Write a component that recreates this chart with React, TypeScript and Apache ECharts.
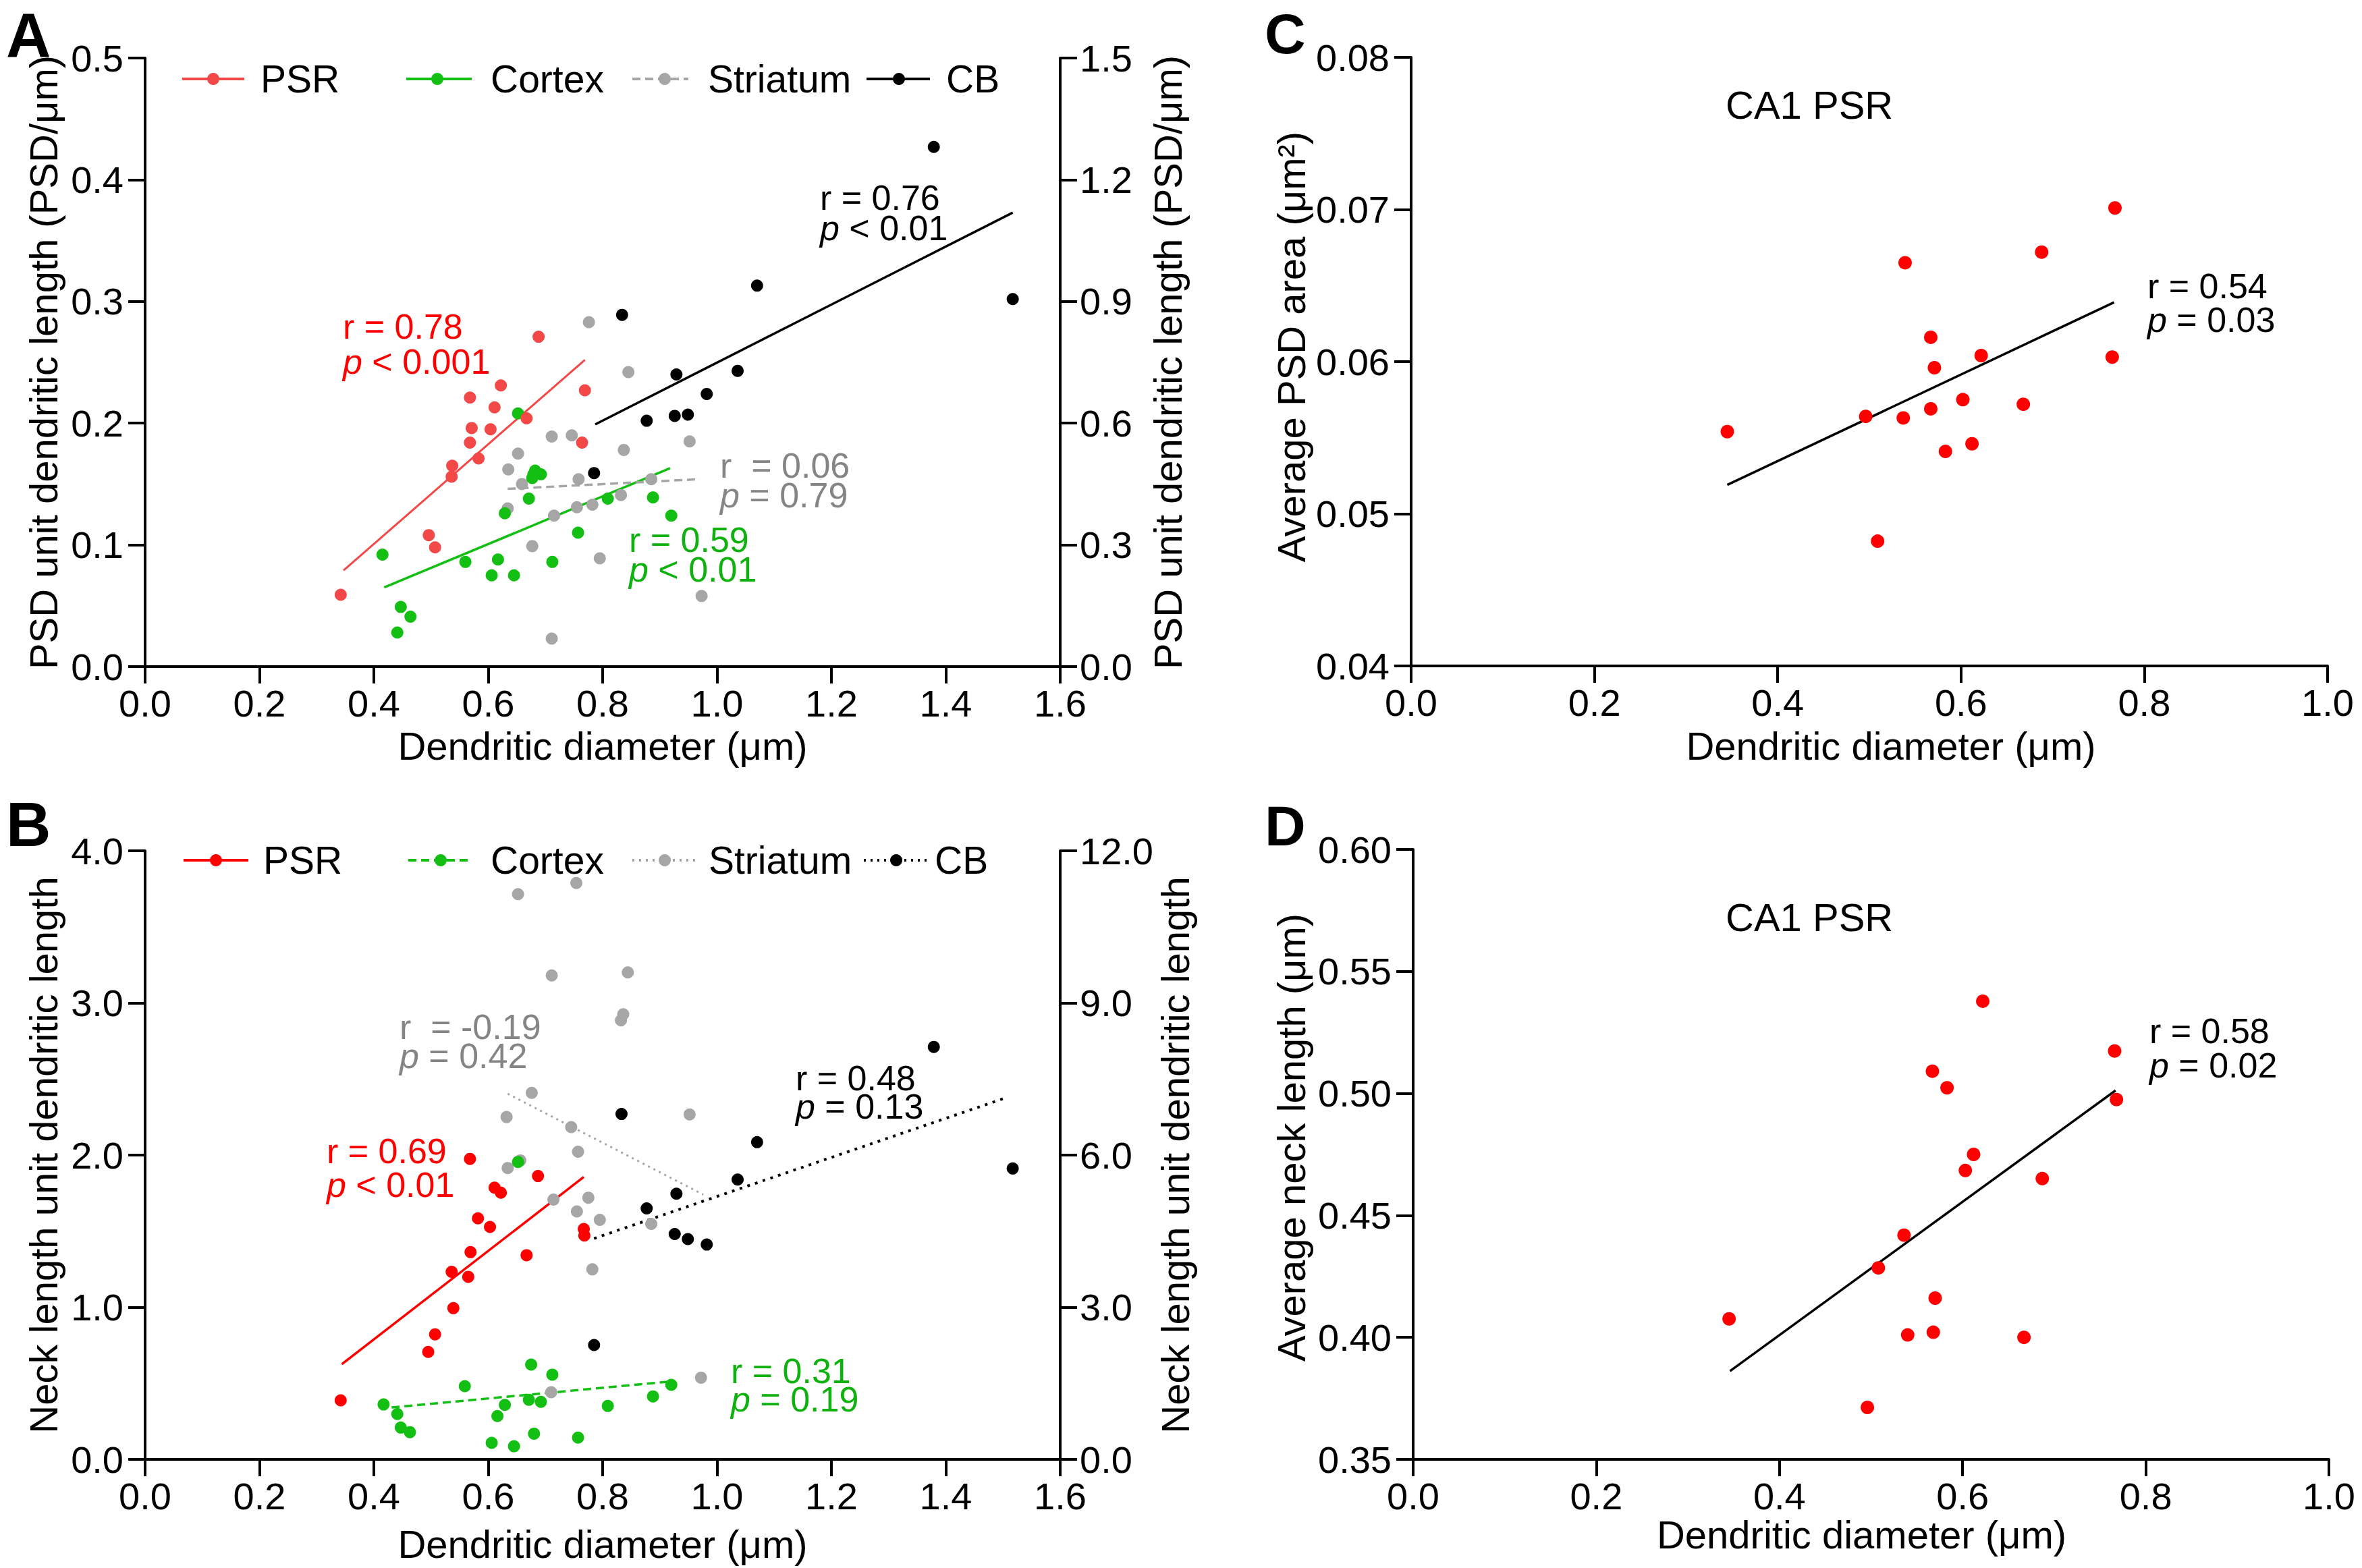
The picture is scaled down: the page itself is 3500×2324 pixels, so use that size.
import React, { useEffect, useRef } from 'react';
import * as echarts from 'echarts';

const FONT = '"Liberation Sans", Arial, Helvetica, sans-serif';

// ---------- Panel A: PSD unit dendritic length ----------
const psrA: number[][] = [
  [0.342, 0.059], [0.496, 0.108], [0.507, 0.098], [0.537, 0.165], [0.536, 0.156],
  [0.568, 0.221], [0.571, 0.196], [0.568, 0.184], [0.583, 0.171], [0.604, 0.195],
  [0.611, 0.213], [0.622, 0.231], [0.667, 0.204], [0.688, 0.271], [0.769, 0.227],
  [0.764, 0.184],
];
const cortexA: number[][] = [
  [0.415, 0.092], [0.447, 0.049], [0.464, 0.041], [0.441, 0.028], [0.560, 0.086],
  [0.606, 0.075], [0.617, 0.088], [0.645, 0.075], [0.629, 0.126], [0.652, 0.208],
  [0.671, 0.138], [0.679, 0.158], [0.682, 0.161], [0.692, 0.158], [0.677, 0.155],
  [0.712, 0.086], [0.757, 0.110], [0.809, 0.138], [0.888, 0.139], [0.920, 0.124],
];
const striatumA: number[][] = [
  [0.776, 0.283], [0.845, 0.242], [0.711, 0.189], [0.746, 0.190], [0.652, 0.175],
  [0.635, 0.162], [0.659, 0.150], [0.758, 0.154], [0.837, 0.178], [0.952, 0.185],
  [0.885, 0.154], [0.832, 0.141], [0.782, 0.133], [0.755, 0.131], [0.634, 0.130],
  [0.715, 0.124], [0.677, 0.099], [0.795, 0.089], [0.973, 0.058], [0.711, 0.023],
];
const cbA: number[][] = [
  [0.785, 0.159], [0.834, 0.289], [0.877, 0.202], [0.929, 0.240], [0.926, 0.206],
  [0.949, 0.207], [0.982, 0.224], [1.036, 0.243], [1.070, 0.313], [1.379, 0.427],
  [1.517, 0.302],
];
const psrAFit: number[][] = [[0.347, 0.079], [0.769, 0.252]];
const cortexAFit: number[][] = [[0.418, 0.065], [0.918, 0.163]];
const striatumAFit: number[][] = [[0.634, 0.146], [0.970, 0.154]];
const cbAFit: number[][] = [[0.787, 0.199], [1.517, 0.373]];

// ---------- Panel B: Neck length unit dendritic length ----------
const psrB: number[][] = [
  [0.342, 0.388], [0.495, 0.706], [0.507, 0.822], [0.539, 0.994], [0.536, 1.233],
  [0.565, 1.200], [0.569, 1.362], [0.568, 1.975], [0.582, 1.584], [0.603, 1.528],
  [0.611, 1.786], [0.622, 1.753], [0.667, 1.342], [0.687, 1.862], [0.767, 1.514],
  [0.768, 1.471],
];
const cortexB: number[][] = [
  [0.417, 0.361], [0.441, 0.298], [0.447, 0.209], [0.463, 0.179], [0.559, 0.481],
  [0.606, 0.109], [0.616, 0.285], [0.629, 0.358], [0.645, 0.086], [0.652, 1.955],
  [0.671, 0.391], [0.675, 0.623], [0.680, 0.169], [0.692, 0.378], [0.712, 0.557],
  [0.757, 0.143], [0.809, 0.351], [0.888, 0.414], [0.920, 0.490],
];
const striatumB: number[][] = [
  [0.754, 3.788], [0.652, 3.715], [0.711, 3.181], [0.844, 3.201], [0.836, 2.926],
  [0.832, 2.886], [0.676, 2.409], [0.632, 2.250], [0.952, 2.267], [0.745, 2.184],
  [0.757, 2.022], [0.634, 1.915], [0.656, 1.965], [0.714, 1.707], [0.775, 1.720],
  [0.755, 1.630], [0.795, 1.574], [0.885, 1.548], [0.782, 1.249], [0.710, 0.441],
  [0.972, 0.537],
];
const cbB: number[][] = [
  [0.785, 0.752], [0.833, 2.270], [0.877, 1.650], [0.929, 1.746], [0.926, 1.481],
  [0.949, 1.448], [0.982, 1.412], [1.036, 1.839], [1.070, 2.085], [1.379, 2.711],
  [1.517, 1.912],
];
const psrBFit: number[][] = [[0.344, 0.626], [0.767, 1.856]];
const cortexBFit: number[][] = [[0.431, 0.341], [0.924, 0.514]];
const striatumBFit: number[][] = [[0.634, 2.403], [0.976, 1.740]];
const cbBFit: number[][] = [[0.785, 1.452], [1.500, 2.370]];

// ---------- Panel C: Average PSD area ----------
const psrC: number[][] = [
  [0.345, 0.0554], [0.496, 0.0564], [0.509, 0.0482], [0.537, 0.0563], [0.539, 0.0665],
  [0.567, 0.0616], [0.571, 0.0596], [0.567, 0.0569], [0.583, 0.0541], [0.602, 0.0575],
  [0.612, 0.0546], [0.622, 0.0604], [0.668, 0.0572], [0.688, 0.0672], [0.768, 0.0701],
  [0.765, 0.0603],
];
const psrCFit: number[][] = [[0.345, 0.0519], [0.767, 0.0639]];

// ---------- Panel D: Average neck length ----------
const psrD: number[][] = [
  [0.345, 0.4076], [0.496, 0.3713], [0.508, 0.4285], [0.536, 0.4419], [0.540, 0.4010],
  [0.567, 0.5091], [0.568, 0.4021], [0.570, 0.4161], [0.583, 0.5023], [0.603, 0.4684],
  [0.612, 0.4750], [0.622, 0.5378], [0.667, 0.4000], [0.687, 0.4651], [0.766, 0.5174],
  [0.768, 0.4975],
];
const psrDFit: number[][] = [[0.346, 0.3862], [0.767, 0.5012]];

// ---------- Tick settings ----------
const xTicksAB = { min: 0, max: 1.6, interval: 0.2 };
const xTicksCD = { min: 0, max: 1.0, interval: 0.2 };
const yTicksA = { min: 0, max: 0.5, interval: 0.1 };
const yTicksARight = { min: 0, max: 1.5, interval: 0.3 };
const yTicksB = { min: 0, max: 4, interval: 1 };
const yTicksBRight = { min: 0, max: 12, interval: 3 };
const yTicksC = { min: 0.04, max: 0.08, interval: 0.01 };
const yTicksD = { min: 0.35, max: 0.6, interval: 0.05 };

const RED_A = '#f24848';
const RED = '#ff0000';
const GREEN = '#13bf13';
const GREEN_TXT = '#0fb10f';
const GRAY = '#a6a6a6';
const GRAY_TXT = '#858585';
const BLACK = '#000000';

const LABEL_SIZE = 56;
const TITLE_SIZE = 58;

function axisCommon(decimals: number) {
  return {
    axisLine: { show: true, onZero: false, lineStyle: { color: '#000', width: 4 } },
    axisTick: { show: true, inside: false, length: 25, lineStyle: { color: '#000', width: 4 } },
    splitLine: { show: false },
    axisLabel: {
      color: '#000',
      fontSize: LABEL_SIZE,
      fontFamily: FONT,
      showMinLabel: true,
      showMaxLabel: true,
      formatter: (v: number) => v.toFixed(decimals),
    },
    nameTextStyle: { color: '#000', fontSize: TITLE_SIZE, fontFamily: FONT },
    nameLocation: 'middle',
  };
}

function xAxis(grid: number, ticks: any, nameGap: number, padding: number[] = [0, 0, 0, 0]) {
  const c: any = axisCommon(1);
  return {
    type: 'value',
    gridIndex: grid,
    ...ticks,
    ...c,
    axisLabel: { ...c.axisLabel, margin: 26 },
    name: 'Dendritic diameter (\u03bcm)',
    nameGap,
    nameTextStyle: { ...c.nameTextStyle, padding },
  };
}

function yAxis(grid: number, ticks: any, decimals: number, name: string, nameGap: number, position = 'left', padding: number[] = [0, 0, 0, 0]) {
  const c: any = axisCommon(decimals);
  return {
    type: 'value',
    gridIndex: grid,
    position,
    ...ticks,
    ...c,
    axisLabel: { ...c.axisLabel, margin: position === 'left' ? 32 : 29 },
    name,
    nameGap,
    nameTextStyle: { ...c.nameTextStyle, padding },
  };
}

function scatter(name: string, data: number[][], color: string, x: number, y: number, size = 18) {
  return {
    type: 'scatter',
    name,
    data,
    xAxisIndex: x,
    yAxisIndex: y,
    symbol: 'circle',
    symbolSize: size,
    itemStyle: { color, opacity: 1 },
    silent: true,
    z: 3,
  };
}

function fit(name: string, data: number[][], color: string, x: number, y: number, type: any = 'solid', width = 3.5) {
  return {
    type: 'line',
    name,
    data,
    xAxisIndex: x,
    yAxisIndex: y,
    symbol: 'none',
    showSymbol: false,
    lineStyle: { color, width, type },
    silent: true,
    z: 2,
  };
}

function txt(x: number, y: number, text: string, color: string, size = 52, bold = false, lh = 40) {
  return {
    type: 'text',
    x,
    y,
    z: 50,
    silent: true,
    style: {
      text,
      fill: color,
      fontSize: size,
      fontFamily: FONT,
      fontWeight: bold ? 'bold' : 'normal',
      lineHeight: lh,
      align: 'left',
      verticalAlign: 'middle',
      rich: {
        i: { fontStyle: 'italic', fontSize: size, fontFamily: FONT, fill: color, lineHeight: lh },
      },
    },
  };
}

function legendItem(x1: number, x2: number, cx: number, tx: number, y: number, label: string, color: string, dash: any) {
  return [
    {
      type: 'line',
      silent: true,
      z: 50,
      shape: { x1, y1: y, x2, y2: y },
      style: { stroke: color, lineWidth: 4, lineDash: dash },
    },
    { type: 'circle', silent: true, z: 51, shape: { cx, cy: y, r: 9 }, style: { fill: color } },
    txt(tx, y, label, '#000', 57, false, 50),
  ];
}

export default function App() {
  const ref = useRef<HTMLDivElement>(null);

  useEffect(() => {
    if (!ref.current) return;
    const chart = echarts.init(ref.current, null, { renderer: 'svg', width: 3500, height: 2324 });

    const graphic: any[] = [
      // panel letters
      txt(9, 52, 'A', '#000', 92, true, 70),
      txt(9, 1222, 'B', '#000', 92, true, 70),
      txt(1874, 50, 'C', '#000', 84, true, 64),
      txt(1874, 1224, 'D', '#000', 84, true, 64),
      // legend A
      ...legendItem(270, 362, 316, 386, 117, 'PSR', RED_A, null),
      ...legendItem(602, 699, 648, 727, 117, 'Cortex', GREEN, null),
      ...legendItem(937, 1020, 985, 1049, 117, 'Striatum', GRAY, [12, 7]),
      ...legendItem(1284, 1378, 1332, 1402, 117, 'CB', BLACK, null),
      // legend B
      ...legendItem(272, 368, 320, 390, 1275, 'PSR', RED, null),
      ...legendItem(605, 700, 653, 727, 1275, 'Cortex', GREEN, [12, 7]),
      ...legendItem(937, 1035, 985, 1050, 1275, 'Striatum', GRAY, [3, 7]),
      ...legendItem(1280, 1378, 1328, 1385, 1275, 'CB', BLACK, [3, 7]),
      // annotations A
      txt(508, 484, 'r = 0.78', RED, 52),
      txt(508, 536, '{i|p} < 0.001', RED, 52),
      txt(1215, 293, 'r = 0.76', BLACK, 52),
      txt(1215, 338, '{i|p} < 0.01', BLACK, 52),
      txt(1067, 690, 'r  = 0.06', GRAY_TXT, 52),
      txt(1067, 734, '{i|p} = 0.79', GRAY_TXT, 52),
      txt(932, 800, 'r = 0.59', GREEN_TXT, 52),
      txt(932, 844, '{i|p} < 0.01', GREEN_TXT, 52),
      // annotations B
      txt(592, 1522, 'r  = -0.19', GRAY_TXT, 52),
      txt(592, 1565, '{i|p} = 0.42', GRAY_TXT, 52),
      txt(1179, 1598, 'r = 0.48', BLACK, 52),
      txt(1179, 1640, '{i|p} = 0.13', BLACK, 52),
      txt(484, 1706, 'r = 0.69', RED, 52),
      txt(484, 1756, '{i|p} < 0.01', RED, 52),
      txt(1083, 2032, 'r = 0.31', GREEN_TXT, 52),
      txt(1083, 2074, '{i|p} = 0.19', GREEN_TXT, 52),
      // annotations C
      txt(2557, 155, 'CA1 PSR', '#000', 58, false, 50),
      txt(3182, 424, 'r = 0.54', '#000', 52),
      txt(3182, 474, '{i|p} = 0.03', '#000', 52),
      // annotations D
      txt(2557, 1359, 'CA1 PSR', '#000', 58, false, 50),
      txt(3185, 1528, 'r = 0.58', '#000', 52),
      txt(3185, 1579, '{i|p} = 0.02', '#000', 52),
    ];

    const option: any = {
      animation: false,
      backgroundColor: '#ffffff',
      textStyle: { fontFamily: FONT },
      grid: [
        { left: 215, top: 86, width: 1356, height: 902 },
        { left: 215, top: 1261, width: 1356, height: 902 },
        { left: 2091, top: 85, width: 1358, height: 902 },
        { left: 2094, top: 1259, width: 1357, height: 904 },
      ],
      xAxis: [
        xAxis(0, xTicksAB, 88),
        xAxis(1, xTicksAB, 96),
        xAxis(2, xTicksCD, 89, [0, 0, 0, 64]),
        xAxis(3, xTicksCD, 80, [0, 28, 0, 0]),
      ],
      yAxis: [
        yAxis(0, yTicksA, 1, 'PSD unit dendritic length (PSD/\u03bcm)', 122, 'left'),
        yAxis(0, yTicksARight, 1, 'PSD unit dendritic length (PSD/\u03bcm)', 130, 'right'),
        yAxis(1, yTicksB, 1, 'Neck length unit dendritic length', 122, 'left'),
        yAxis(1, yTicksBRight, 1, 'Neck length unit dendritic length', 130, 'right'),
        yAxis(2, yTicksC, 2, 'Average PSD area (\u03bcm\u00b2)', 149, 'left', [0, 0, 0, 44]),
        yAxis(3, yTicksD, 2, 'Average neck length (\u03bcm)', 152, 'left', [0, 0, 0, 50]),
      ],
      series: [
        // A
        fit('PSR fit A', psrAFit, RED_A, 0, 0, 'solid', 3),
        fit('Cortex fit A', cortexAFit, GREEN, 0, 0, 'solid', 3.5),
        fit('Striatum fit A', striatumAFit, GRAY, 0, 0, [12, 7], 3.5),
        fit('CB fit A', cbAFit, BLACK, 0, 0, 'solid', 3.5),
        scatter('Striatum A', striatumA, GRAY, 0, 0),
        scatter('CB A', cbA, BLACK, 0, 0),
        scatter('Cortex A', cortexA, GREEN, 0, 0),
        scatter('PSR A', psrA, RED_A, 0, 0),
        // B
        fit('PSR fit B', psrBFit, RED, 1, 2, 'solid', 3.5),
        fit('Cortex fit B', cortexBFit, GREEN, 1, 2, [12, 7], 3.5),
        fit('Striatum fit B', striatumBFit, GRAY, 1, 2, [3, 6], 3),
        fit('CB fit B', cbBFit, BLACK, 1, 2, [4, 8], 4),
        scatter('Striatum B', striatumB, GRAY, 1, 2),
        scatter('CB B', cbB, BLACK, 1, 2),
        scatter('Cortex B', cortexB, GREEN, 1, 2),
        scatter('PSR B', psrB, RED, 1, 2),
        // C
        fit('PSR fit C', psrCFit, BLACK, 2, 4, 'solid', 3.5),
        scatter('PSR C', psrC, RED, 2, 4, 20),
        // D
        fit('PSR fit D', psrDFit, BLACK, 3, 5, 'solid', 3.5),
        scatter('PSR D', psrD, RED, 3, 5, 20),
      ],
      graphic,
    };

    chart.setOption(option);
    return () => chart.dispose();
  }, []);

  return (
    <div
      ref={ref}
      style={{ position: 'fixed', left: 0, top: 0, width: 3500, height: 2324, background: '#fff' }}
    />
  );
}
